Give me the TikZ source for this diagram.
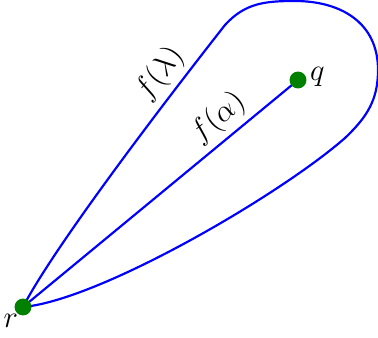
\documentclass[tikz,border=0pt]{standalone}
\begin{document}
\begin{tikzpicture}[x=0.39pt,y=-0.39pt,
  curve/.style={blue,line width=0.85pt},
  dot/.style={fill=green!50!black},
  lbl/.style={inner sep=2pt,text=black,font=\fontsize{11.5}{14}\selectfont}]
\useasboundingbox (0,0) rectangle (378,337);
\coordinate (r) at (23,307);
\coordinate (q) at (298,80);
\draw[curve] (r) .. controls (55,245) and (170,95) .. node[lbl,pos=0.76,sloped,above] {$f(\lambda)$} (225,25)
  .. controls (245,3) and (265,1) .. (295,1)
  .. controls (340,1) and (378,22) .. (378,70)
  .. controls (378,100) and (367,117) .. (345,138)
  .. controls (280,195) and (100,300) .. (r);
\draw[curve] (r) -- node[lbl,pos=0.76,sloped,above] {$f(\alpha)$} (q);
\fill[dot] (r) circle (3.3pt);
\fill[dot] (q) circle (3.3pt);
\node[lbl,anchor=north east,inner sep=1pt] (rl) at (21,311) {$r$};
\node[lbl,anchor=west,inner sep=1pt] (ql) at (307,77) {$q$};
\end{tikzpicture}
\end{document}
